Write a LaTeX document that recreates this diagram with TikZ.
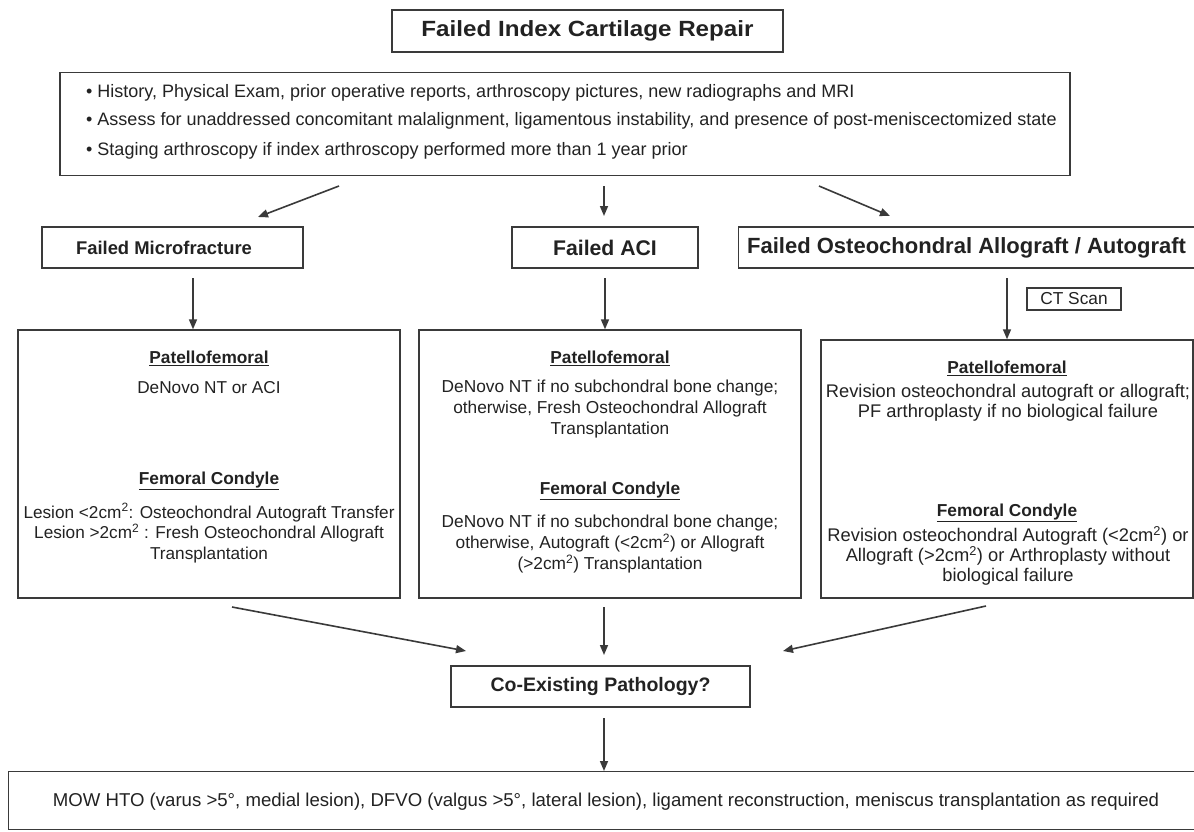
\documentclass[tikz,border=0pt]{standalone}
\usepackage{fontspec}
\usepackage{graphicx}
\setmainfont{Liberation Sans}
\usetikzlibrary{arrows.meta}
\definecolor{linec}{HTML}{3A3A3A}
\definecolor{txtc}{HTML}{222222}
\newcommand{\mysub}[1]{{\fontsize{17.3}{21}\selectfont\underline{\textbf{#1}}}}
\begin{document}
\begin{tikzpicture}[x=1pt,y=-1pt,
  box/.style={draw=linec, line width=1.4pt, inner sep=0pt, text=txtc},
  headtxt/.style={text=txtc, inner sep=0pt},
  bodytxt/.style={text=txtc, inner sep=0pt, align=center},
  arr/.style={draw=linec, line width=1.6pt, -{Triangle[length=10pt,width=8pt]}}]
\path[use as bounding box, clip] (0,0) rectangle (1194,831);
\fill[white] (0,0) rectangle (1194,831);

% top
\node[box, minimum width=391pt, minimum height=42pt, font=\fontsize{22}{26}\selectfont\bfseries] (title) at (587.5,31) {\scalebox{1.1}[1]{Failed Index Cartilage Repair}};
\node[box, minimum width=1010pt, minimum height=103pt] (info) at (565,124) {};
\tikzset{infotxt/.style={anchor=base west, bodytxt, font=\fontsize{18}{22}\selectfont}}
\node[infotxt] (i1) at (86,97) {\textbullet\ History, Physical Exam, prior operative reports, arthroscopy pictures, new radiographs and MRI};
\node[infotxt] (i2) at (86,125) {\textbullet\ Assess for unaddressed concomitant malalignment, ligamentous instability, and presence of post-meniscectomized state};
\node[infotxt] (i3) at (86,155) {\textbullet\ Staging arthroscopy if index arthroscopy performed more than 1 year prior};

% second row
\node[box, minimum width=261pt, minimum height=41pt] (mf) at (172.5,247.5) {};
\node[headtxt, font=\fontsize{18.4}{22}\selectfont\bfseries] (mft0) at (164,247.5) {Failed Microfracture};
\node[box, minimum width=186pt, minimum height=41pt, font=\fontsize{21.2}{24}\selectfont\bfseries] (aci) at (605,247.5) {Failed ACI};
\node[box, minimum width=480pt, minimum height=41pt, anchor=west] (oca) at (738,247.5) {};
\node[headtxt, anchor=west, font=\fontsize{22}{26}\selectfont\bfseries] (ocat) at (747,247.5) {Failed Osteochondral Allograft / Autograft};

% arrows from info
\coordinate (a1s) at (339,186); \coordinate (a1e) at (258,217);
\coordinate (a2s) at (604,186); \coordinate (a2e) at (604,216);
\coordinate (a3s) at (819,186); \coordinate (a3e) at (890,216);
\draw[arr] (a1s) -- (a1e);
\draw[arr] (a2s) -- (a2e);
\draw[arr] (a3s) -- (a3e);

% third row boxes
\node[box, minimum width=382pt, minimum height=268pt] (L) at (209,464) {};
\node[box, minimum width=382pt, minimum height=268pt] (M) at (610,464) {};
\node[box, minimum width=372pt, minimum height=258pt] (R) at (1007,469) {};
\node[box, minimum width=94pt, minimum height=22pt, font=\fontsize{17.3}{20}\selectfont] (ct) at (1074,299) {CT Scan};

\coordinate (b1s) at (193,278); \coordinate (b2s) at (605,278); \coordinate (b3s) at (1007,278);
\draw[arr] (b1s) -- (b1s |- L.north);
\draw[arr] (b2s) -- (b2s |- M.north);
\draw[arr] (b3s) -- (b3s |- R.north);

% left box text
\tikzset{ltxt/.style={bodytxt, font=\fontsize{17.2}{20.5}\selectfont}}
\node[ltxt] (lp) at (209,358) {\mysub{Patellofemoral}};
\node[ltxt] (lpt) at (209,388) {DeNovo NT or ACI};
\node[ltxt] (lf) at (209,481) {\mysub{Femoral Condyle}};
\node[ltxt] (lft) at (209,533) {Lesion <2cm\textsuperscript{2}: Osteochondral Autograft Transfer\\Lesion >2cm\textsuperscript{2} : Fresh Osteochondral Allograft\\Transplantation};

% middle box text
\tikzset{mtxt/.style={bodytxt, font=\fontsize{17.3}{21}\selectfont}}
\node[mtxt] (mp) at (610,358) {\mysub{Patellofemoral}};
\node[mtxt] (mpt) at (610,409) {DeNovo NT if no subchondral bone change;\\otherwise, Fresh Osteochondral Allograft\\Transplantation};
\node[mtxt] (mfc) at (610,491) {\mysub{Femoral Condyle}};
\node[mtxt] (mft) at (610,544) {DeNovo NT if no subchondral bone change;\\otherwise, Autograft (<2cm\textsuperscript{2}) or Allograft\\(>2cm\textsuperscript{2}) Transplantation};

% right box text
\tikzset{rtxt/.style={bodytxt, font=\fontsize{18.3}{20}\selectfont}}
\node[rtxt] (rp) at (1007,368) {\mysub{Patellofemoral}};
\node[rtxt] (rpt) at (1008,403) {Revision osteochondral autograft or allograft;\\PF arthroplasty if no biological failure};
\node[rtxt] (rf) at (1007,513) {\mysub{Femoral Condyle}};
\node[rtxt] (rft) at (1008,556) {Revision osteochondral Autograft (<2cm\textsuperscript{2}) or\\Allograft (>2cm\textsuperscript{2}) or Arthroplasty without\\biological failure};

% co-existing
\node[box, minimum width=299pt, minimum height=41pt, font=\fontsize{19.5}{23}\selectfont\bfseries] (co) at (600.5,686.5) {Co-Existing Pathology?};
\coordinate (c1s) at (232,607); \coordinate (c1e) at (466,651);
\coordinate (c2s) at (604,607); \coordinate (c2e) at (604,655);
\coordinate (c3s) at (986,606); \coordinate (c3e) at (783,651);
\draw[arr] (c1s) -- (c1e);
\draw[arr] (c2s) -- (c2e);
\draw[arr] (c3s) -- (c3e);

% bottom
\node[box, minimum width=1220pt, minimum height=58pt, anchor=north west] (bot) at (8,771) {};
\node[bodytxt, font=\fontsize{18.6}{22}\selectfont] (bott) at (606,802) {MOW HTO (varus >5°, medial lesion), DFVO (valgus >5°, lateral lesion), ligament reconstruction, meniscus transplantation as required};
\coordinate (d1s) at (604,718);
\draw[arr] (d1s) -- (d1s |- bot.north) ;
\end{tikzpicture}
\end{document}
